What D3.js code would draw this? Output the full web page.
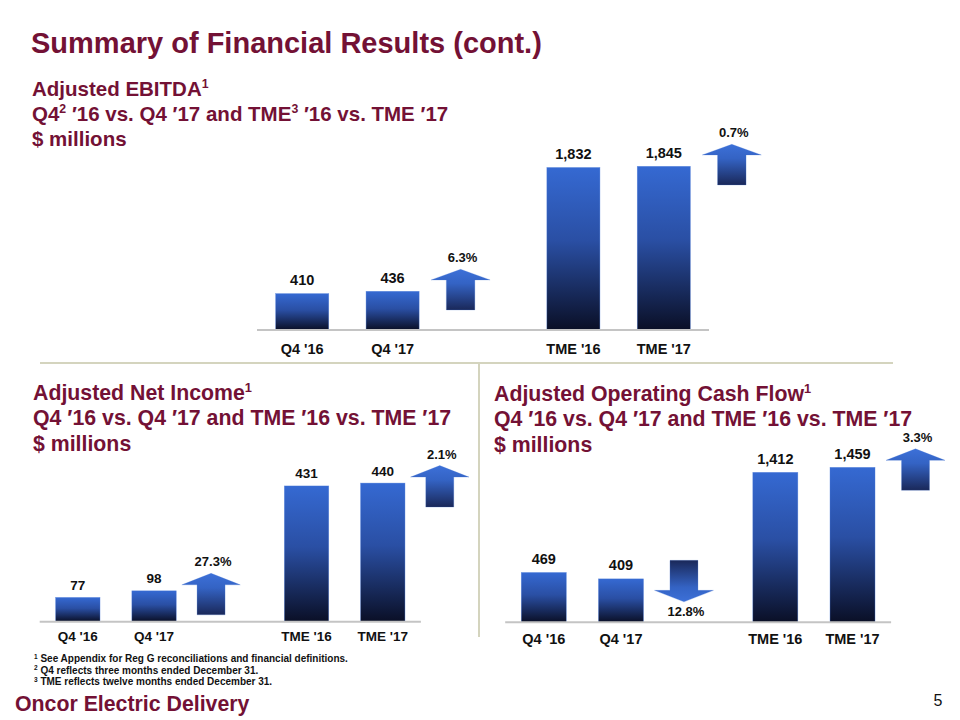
<!DOCTYPE html>
<html><head><meta charset="utf-8">
<script src="https://cdn.jsdelivr.net/npm/d3@7"></script>
<style>
body{margin:0;background:#fff}
svg{display:block}
text{font-family:"Liberation Sans",Arial,Helvetica,sans-serif;}
</style>
</head><body>
<svg id="c" width="960" height="720"></svg>
<script>
// ---------- data ----------
const categories = ["Q4 '16", "Q4 '17", "TME '16", "TME '17"];
const ebitdaValues = [410, 436, 1832, 1845];
const netIncomeValues = [77, 98, 431, 440];
const cashFlowValues = [469, 409, 1412, 1459];

const ebitdaChangeLabels = ["6.3%", "0.7%"];
const ebitdaChangeDirs = ["up", "up"];
const netIncomeChangeLabels = ["27.3%", "2.1%"];
const netIncomeChangeDirs = ["up", "up"];
const cashFlowChangeLabels = ["12.8%", "3.3%"];
const cashFlowChangeDirs = ["down", "up"];

const pageTitle = "Summary of Financial Results (cont.)";
const footnotes = [
  ["1", "See Appendix for Reg G reconciliations and financial definitions."],
  ["2", "Q4 reflects three months ended December 31."],
  ["3", "TME reflects twelve months ended December 31."]
];
const footerText = "Oncor Electric Delivery";
const pageNumber = "5";

// ---------- drawing ----------
const svg = d3.select("#c");
const MAROON = "#731135";
const defs = svg.append("defs");

const barGrad = defs.append("linearGradient").attr("id", "barGrad")
  .attr("x1", 0).attr("y1", 0).attr("x2", 0).attr("y2", 1);
barGrad.append("stop").attr("offset", "0").attr("stop-color", "#3569d2");
barGrad.append("stop").attr("offset", "0.45").attr("stop-color", "#2a4fa4");
barGrad.append("stop").attr("offset", "1").attr("stop-color", "#0a0f26");

const upGrad = defs.append("linearGradient").attr("id", "upGrad")
  .attr("x1", 0).attr("y1", 0).attr("x2", 0).attr("y2", 1);
upGrad.append("stop").attr("offset", "0").attr("stop-color", "#3c70d8");
upGrad.append("stop").attr("offset", "0.35").attr("stop-color", "#3463c4");
upGrad.append("stop").attr("offset", "1").attr("stop-color", "#1a2859");

const downGrad = defs.append("linearGradient").attr("id", "downGrad")
  .attr("x1", 0).attr("y1", 0).attr("x2", 0).attr("y2", 1);
downGrad.append("stop").attr("offset", "0").attr("stop-color", "#1a2859");
downGrad.append("stop").attr("offset", "0.65").attr("stop-color", "#3463c4");
downGrad.append("stop").attr("offset", "1").attr("stop-color", "#3c70d8");

// title
svg.append("text").attr("x", 31).attr("y", 53)
  .attr("font-size", 29).attr("font-weight", "bold").attr("fill", MAROON)
  .text(pageTitle);

function heading(x, baselines, size, lines) {
  lines.forEach((line, i) => {
    const t = svg.append("text").attr("x", x).attr("y", baselines[i])
      .attr("font-size", size).attr("font-weight", "bold").attr("fill", MAROON);
    let shifted = false;
    line.forEach(([s, sup]) => {
      const ts = t.append("tspan").text(s);
      if (sup) {
        ts.attr("font-size", size * 0.6);
        if (!shifted) { ts.attr("dy", -size * 0.38); shifted = true; }
      } else if (shifted) {
        ts.attr("dy", size * 0.38); shifted = false;
      }
    });
  });
}

heading(32, [96, 121, 146], 20.5, [
  [["Adjusted EBITDA"], ["1", true]],
  [["Q4"], ["2", true], [" \u203216 vs. Q4 \u203217 and TME"], ["3", true], [" \u203216 vs. TME \u203217"]],
  [["$ millions"]]
]);
heading(33, [400, 425, 451], 21.3, [
  [["Adjusted Net Income"], ["1", true]],
  [["Q4 \u203216 vs. Q4 \u203217 and TME \u203216 vs. TME \u203217"]],
  [["$ millions"]]
]);
heading(494, [401, 426, 452], 21.3, [
  [["Adjusted Operating Cash Flow"], ["1", true]],
  [["Q4 \u203216 vs. Q4 \u203217 and TME \u203216 vs. TME \u203217"]],
  [["$ millions"]]
]);

// separators
svg.append("line").attr("x1", 40).attr("x2", 893).attr("y1", 363).attr("y2", 363)
  .attr("stroke", "#d4d4be").attr("stroke-width", 2);
svg.append("line").attr("x1", 479).attr("x2", 479).attr("y1", 363).attr("y2", 637)
  .attr("stroke", "#d4d4be").attr("stroke-width", 2);

function arrowPath(cx, top, L, hw, sw, hh, dir) {
  if (dir === "up") {
    return `M${cx},${top} L${cx + hw / 2},${top + hh} L${cx + sw / 2},${top + hh} L${cx + sw / 2},${top + L} L${cx - sw / 2},${top + L} L${cx - sw / 2},${top + hh} L${cx - hw / 2},${top + hh} Z`;
  }
  const tip = top + L;
  return `M${cx - sw / 2},${top} L${cx + sw / 2},${top} L${cx + sw / 2},${tip - hh} L${cx + hw / 2},${tip - hh} L${cx},${tip} L${cx - hw / 2},${tip - hh} L${cx - sw / 2},${tip - hh} L${cx - sw / 2},${top} Z`;
}

function drawChart(o) {
  const domain = [categories[0], categories[1], "__gap", categories[2], categories[3]];
  const x = d3.scaleBand().domain(domain).range([o.x0, o.x1])
    .paddingInner(o.pad).paddingOuter(o.pad / 2);
  const y = d3.scaleLinear().domain([0, o.yMax]).range([o.baseY, o.baseY - o.yPx]);
  const g = svg.append("g");
  const data = categories.map((c, i) => ({ c, v: o.values[i] }));

  g.selectAll("rect.bar").data(data).join("rect").attr("class", "bar")
    .attr("x", d => x(d.c)).attr("width", x.bandwidth())
    .attr("y", d => y(d.v)).attr("height", d => y(0) - y(d.v))
    .attr("fill", "url(#barGrad)")
    .attr("stroke", "#4a7ad8").attr("stroke-width", 0.6).attr("stroke-opacity", 0.6);

  g.append("line").attr("x1", o.x0).attr("x2", o.x1).attr("y1", o.baseY).attr("y2", o.baseY)
    .attr("stroke", "#c4c4c4").attr("stroke-width", 2);

  g.selectAll("text.val").data(data).join("text").attr("class", "val")
    .attr("x", d => x(d.c) + x.bandwidth() / 2).attr("y", d => y(d.v) - o.valGap)
    .attr("text-anchor", "middle").attr("font-size", o.valFont).attr("font-weight", "bold")
    .attr("fill", "#111").text(d => d3.format(",")(d.v));

  const xAxis = d3.axisBottom(x).tickSize(0).tickFormat(d => d === "__gap" ? "" : d);
  const ax = g.append("g").attr("transform", `translate(0,${o.baseY})`).call(xAxis);
  ax.select(".domain").remove();
  ax.selectAll("text").attr("y", o.catY - o.baseY).attr("dy", 0)
    .attr("font-size", o.catFont).attr("font-weight", "bold").attr("fill", "#111")
    .attr("font-family", "Liberation Sans, Arial, sans-serif");

  // change arrows
  [1, 3].forEach((idx, k) => {
    const cat = categories[idx];
    const v = o.values[idx];
    const cx = x(cat) + x.bandwidth() / 2 + o.arrowOffset;
    const top = y(v) - o.arrowGap;
    const dir = o.dirs[k];
    g.append("path").attr("d", arrowPath(cx, top, o.L, o.hw, o.sw, o.hh, dir))
      .attr("fill", dir === "up" ? "url(#upGrad)" : "url(#downGrad)")
      .attr("stroke", "#4a7ad8").attr("stroke-width", 0.5).attr("stroke-opacity", 0.5);
    g.append("text").attr("x", cx + 2)
      .attr("y", dir === "up" ? top - 7 : top + o.L + 14)
      .attr("text-anchor", "middle").attr("font-size", 13).attr("font-weight", "bold")
      .attr("fill", "#111").text(o.changes[k]);
  });
}

drawChart({ values: ebitdaValues, changes: ebitdaChangeLabels, dirs: ebitdaChangeDirs,
  x0: 257, x1: 709, pad: 0.413, baseY: 330, yMax: 2000, yPx: 177.4,
  valFont: 14.5, valGap: 8.5, catFont: 14.5, catY: 353.5,
  arrowOffset: 68, arrowGap: 22, L: 40.6, hw: 59, sw: 28.5, hh: 10.6 });

drawChart({ values: netIncomeValues, changes: netIncomeChangeLabels, dirs: netIncomeChangeDirs,
  x0: 39.7, x1: 420.9, pad: 0.418, baseY: 621.7, yMax: 500, yPx: 157.5,
  valFont: 13.5, valGap: 7.5, catFont: 13.5, catY: 641.3,
  arrowOffset: 57, arrowGap: 17.5, L: 41.5, hw: 58.5, sw: 28, hh: 11.5 });

drawChart({ values: cashFlowValues, changes: cashFlowChangeLabels, dirs: cashFlowChangeDirs,
  x0: 505.2, x1: 891.1, pad: 0.417, baseY: 622.3, yMax: 1600, yPx: 169.9,
  valFont: 14.5, valGap: 8.5, catFont: 14.5, catY: 644.3,
  arrowOffset: 63, arrowGap: 18.5, L: 41.5, hw: 59, sw: 28, hh: 11.5 });

// footnotes
const fn = svg.append("g");
footnotes.forEach(([n, s], i) => {
  const t = fn.append("text").attr("x", 34).attr("y", 662 + i * 11.5)
    .attr("font-size", 10).attr("font-weight", "bold").attr("fill", "#111");
  t.append("tspan").attr("font-size", 6.5).attr("dy", -3.5).text(n);
  t.append("tspan").attr("dy", 3.5).text(" " + s);
});

svg.append("text").attr("x", 15).attr("y", 711)
  .attr("font-size", 21.3).attr("font-weight", "bold").attr("fill", MAROON)
  .text(footerText);
svg.append("text").attr("x", 938).attr("y", 706).attr("text-anchor", "middle")
  .attr("font-size", 16).attr("fill", "#111").text(pageNumber);
</script>
</body></html>
